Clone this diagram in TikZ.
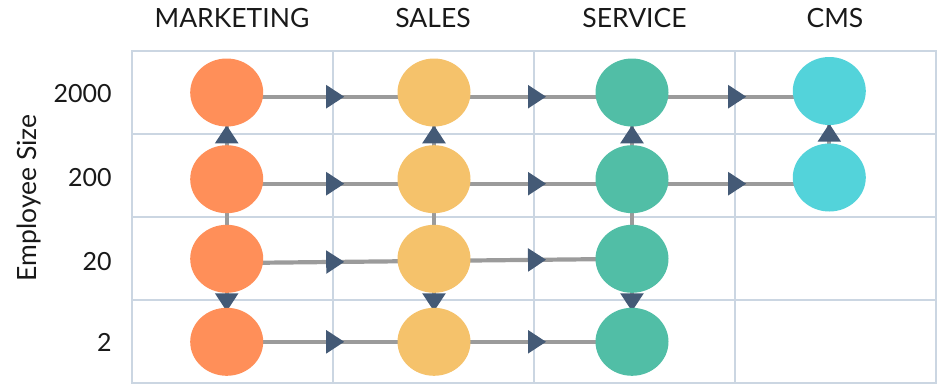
\documentclass[tikz,border=0pt]{standalone}
\usepackage{fontspec}
\setmainfont{Lato}
\usetikzlibrary{shapes.geometric,calc,backgrounds,decorations.markings}
\definecolor{gridc}{HTML}{CBD6E2}
\definecolor{linec}{HTML}{9B9B9B}
\definecolor{arrowc}{HTML}{445A76}
\definecolor{mktc}{HTML}{FF8F59}
\definecolor{salc}{HTML}{F5C26B}
\definecolor{svcc}{HTML}{51BEA6}
\definecolor{cmsc}{HTML}{53D3DA}
\tikzset{
  dot/.style={ellipse, minimum width=73pt, minimum height=68pt, inner sep=0pt, draw=none},
  hdr/.style={font=\fontsize{26.5pt}{30pt}\selectfont, text=black!90, inner sep=0pt, anchor=base},
  rowlab/.style={font=\fontsize{25pt}{30pt}\selectfont, text=black!90, inner sep=0pt, anchor=base east},
  conn/.style={draw=linec, line width=4.2pt},
  tipat/.style={postaction={decorate}, decoration={markings, mark=at position #1 with {\fill[arrowc] (0pt,-11.8pt) -- (18pt,0pt) -- (0pt,11.8pt) -- cycle;}}},
}
\begin{document}
\begin{tikzpicture}[x=1pt,y=-1pt]
\useasboundingbox (0,0) rectangle (938,384);
% grid
\begin{pgfonlayer}{background}
\draw[gridc, line width=2pt] (131.7,51) rectangle (935.7,382.7);
\foreach \xx in {332.7,534,735} \draw[gridc, line width=2pt] (\xx,51) -- (\xx,382.7);
\foreach \yy in {134.3,217.3,300} \draw[gridc, line width=2pt] (131.7,\yy) -- (935.7,\yy);
\end{pgfonlayer}
% headers
\node[hdr] (hm) at (232,27.3) {MARKETING};
\node[hdr] (hs) at (433,27.3) {SALES};
\node[hdr] (hv) at (634.5,27.3) {SERVICE};
\node[hdr] (hc) at (835,27.3) {CMS};
% row labels
\node[rowlab] (r1) at (111.7,102.3) {2000};
\node[rowlab] (r2) at (111.7,186.7) {200};
\node[rowlab] (r3) at (111.7,270) {20};
\node[rowlab] (r4) at (111.7,351.7) {2};
\node[font=\fontsize{26.5pt}{30pt}\selectfont, text=black!90, inner sep=0pt, rotate=90, anchor=base] (ax) at (36.7,198) {Employee Size};
% circles
\node[dot, fill=mktc] (m1) at (226.7,92.5) {};
\node[dot, fill=mktc] (m2) at (226.7,179.2) {};
\node[dot, fill=mktc] (m3) at (226.7,258.8) {};
\node[dot, fill=mktc] (m4) at (226.7,341.8) {};
\node[dot, fill=salc] (s1) at (434,92.5) {};
\node[dot, fill=salc] (s2) at (434,179.2) {};
\node[dot, fill=salc] (s3) at (434,258.8) {};
\node[dot, fill=salc] (s4) at (434,341.8) {};
\node[dot, fill=svcc] (v1) at (632,92.5) {};
\node[dot, fill=svcc] (v2) at (632,179.2) {};
\node[dot, fill=svcc] (v3) at (632,258.8) {};
\node[dot, fill=svcc] (v4) at (632,341.8) {};
\node[dot, fill=cmsc] (c1) at (829.3,91) {};
\node[dot, fill=cmsc] (c2) at (829.3,177.5) {};
% connectors
\begin{pgfonlayer}{background}
% row 2000
\draw[conn, tipat=99.5pt] ($(m1)+(0,4.2)$) -- ($(s1)+(0,4.2)$);
\draw[conn, tipat=94pt] ($(s1)+(0,4.2)$) -- ($(v1)+(0,4.2)$);
\draw[conn, tipat=96.2pt] ($(v1)+(0,4.2)$) -- ($(c1)+(0,5.7)$);
% row 200
\draw[conn, tipat=99.5pt] ($(m2)+(0,4.5)$) -- ($(s2)+(0,4.5)$);
\draw[conn, tipat=94pt] ($(s2)+(0,4.5)$) -- ($(v2)+(0,4.5)$);
\draw[conn, tipat=96.2pt] ($(v2)+(0,4.5)$) -- ($(c2)+(0,6.2)$);
% row 20
\draw[conn, tipat=99.5pt] ($(m3)+(0,4.3)$) -- ($(s3)+(0,2.1)$);
\draw[conn, tipat=94pt] ($(s3)+(0,2.1)$) -- (v3.center);
% row 2
\draw[conn, tipat=99.5pt] (m4.center) -- (s4.center);
\draw[conn, tipat=94pt] (s4.center) -- (v4.center);
% verticals
\draw[conn, tipat=35.9pt] (m2.center) -- (m1.center);
\draw[conn] (m3.center) -- (m2.center);
\draw[conn, tipat=34.5pt] (m3.center) -- (m4.center);
\draw[conn, tipat=35.9pt] (s2.center) -- (s1.center);
\draw[conn] (s3.center) -- (s2.center);
\draw[conn, tipat=34.5pt] (s3.center) -- (s4.center);
\draw[conn, tipat=35.9pt] (v2.center) -- (v1.center);
\draw[conn] (v3.center) -- (v2.center);
\draw[conn, tipat=34.5pt] (v3.center) -- (v4.center);
\draw[conn, tipat=35.8pt] (c2.center) -- (c1.center);
\end{pgfonlayer}
\end{tikzpicture}
\end{document}
